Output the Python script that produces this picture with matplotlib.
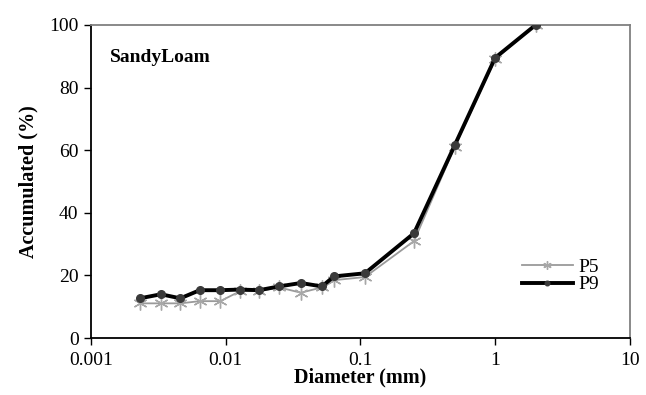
import matplotlib
matplotlib.use("Agg")
import matplotlib.pyplot as plt
from matplotlib.ticker import FixedLocator, FixedFormatter

matplotlib.rcParams['font.family'] = 'Liberation Serif'

# particle diameter (mm)
diameter = [0.0023, 0.0033, 0.0046, 0.0064, 0.0091, 0.0128, 0.0177, 0.0248,
            0.0361, 0.0518, 0.0635, 0.108, 0.25, 0.5, 1.0, 2.0]

# accumulated (%)
p5 = [11.1, 11.1, 11.1, 11.8, 11.8, 15.0, 15.0, 16.2,
      14.5, 16.2, 18.5, 19.5, 31.0, 61.0, 89.0, 100.0]
p9 = [12.7, 14.0, 12.7, 15.3, 15.3, 15.5, 15.3, 16.5,
      17.6, 16.5, 19.7, 20.7, 33.5, 61.5, 89.5, 100.0]

x_ticks = [0.001, 0.01, 0.1, 1, 10]
x_tick_labels = ["0.001", "0.01", "0.1", "1", "10"]
y_ticks = [0, 20, 40, 60, 80, 100]

fig = plt.figure(figsize=(6.46, 3.95), dpi=100)
ax = fig.add_axes([0.141, 0.144, 0.834, 0.793])

ax.plot(diameter, p5, color="#9a9a9a", linewidth=1.3,
        marker=(6, 2, 0), markersize=10, markeredgewidth=1.0,
        markeredgecolor="#a8a8a8", label="P5", zorder=2)
ax.plot(diameter, p9, color="black", linewidth=2.8,
        marker="o", markersize=5.5, markerfacecolor="#3a3a3a",
        markeredgecolor="#3a3a3a", label="P9", zorder=3)

ax.set_xscale("log")
ax.set_xlim(0.001, 10)
ax.set_ylim(0, 100)
ax.xaxis.set_major_locator(FixedLocator(x_ticks))
ax.xaxis.set_major_formatter(FixedFormatter(x_tick_labels))
ax.xaxis.set_minor_locator(FixedLocator([]))
ax.set_yticks(y_ticks)

ax.tick_params(axis="both", direction="out", length=5, width=1,
               labelsize=14, colors="black")
ax.tick_params(axis="x", pad=5)
ax.tick_params(axis="y", pad=4)

for side in ["left", "bottom"]:
    ax.spines[side].set_color("black")
    ax.spines[side].set_linewidth(1.3)
for side in ["top", "right"]:
    ax.spines[side].set_color("#808080")
    ax.spines[side].set_linewidth(1.3)

ax.set_xlabel("Diameter (mm)", fontsize=14.5, fontweight="bold", labelpad=-1)
ax.set_ylabel("Accumulated (%)", fontsize=14.5, fontweight="bold", labelpad=8)

ax.text(0.035, 0.895, "SandyLoam", transform=ax.transAxes, fontsize=14,
        fontweight="bold", ha="left", va="center")

ax.legend(loc="upper left", bbox_to_anchor=(0.80, 0.255), frameon=False,
          fontsize=14, handlelength=2.6, handletextpad=0.3, labelspacing=0.0,
          borderpad=0, borderaxespad=0, markerscale=0.6)

fig.savefig("out.png", dpi=100)
